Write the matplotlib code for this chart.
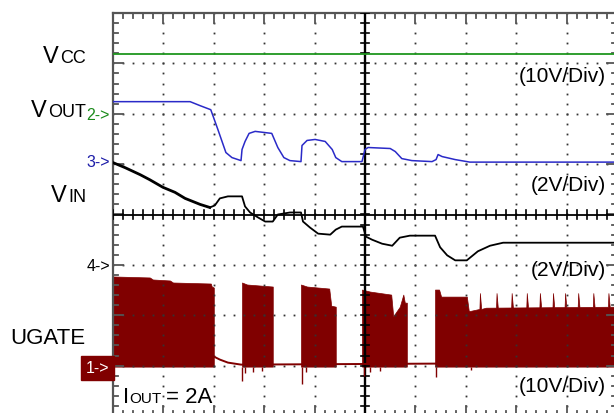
import numpy as np
import matplotlib
matplotlib.use('Agg')
from matplotlib import pyplot as plt

plt.rcParams['font.family'] = ['Liberation Sans', 'DejaVu Sans']

# scope screen: 10 x 8 divisions, y = 0 at the centre line
# VCC (ch2 level line)
vcc_level = 3.19

# VOUT trace (blue)
vout_x = [0.0, 1.53, 1.73, 1.94, 2.08, 2.24, 2.36, 2.54, 2.56, 2.62, 2.70, 2.82, 3.15,
          3.27, 3.39, 3.51, 3.73, 3.75, 3.85, 4.01, 4.21, 4.35, 4.42, 4.54, 4.94, 5.0,
          5.06, 5.5, 5.6, 5.73, 5.93, 6.33, 6.41, 6.45, 6.53, 6.79, 7.08, 10.0]
vout_y = [2.24, 2.24, 2.16, 2.08, 1.69, 1.23, 1.13, 1.07, 1.29, 1.45, 1.61, 1.65, 1.61,
          1.33, 1.13, 1.07, 1.05, 1.37, 1.47, 1.49, 1.45, 1.29, 1.13, 1.05, 1.05, 1.29,
          1.33, 1.31, 1.25, 1.11, 1.07, 1.05, 1.09, 1.19, 1.15, 1.09, 1.04, 1.04]

# VIN trace (black)
vin_x = [0.0, 0.24, 0.54, 0.73, 0.99, 1.23, 1.43, 1.73, 1.92, 2.02, 2.12, 2.28, 2.56,
         2.62, 2.72, 2.88, 3.02, 3.17, 3.27, 3.51, 3.73, 3.77, 3.91, 4.07, 4.31, 4.42,
         4.54, 4.96, 5.02, 5.14, 5.34, 5.54, 5.69, 5.89, 6.39, 6.49, 6.63, 6.79, 7.02,
         7.24, 7.48, 7.74, 10.0]
vin_y = [1.03, 0.93, 0.79, 0.69, 0.54, 0.44, 0.32, 0.20, 0.14, 0.18, 0.32, 0.36, 0.36,
         0.16, 0.04, -0.06, -0.14, -0.14, 0.0, 0.04, 0.04, -0.14, -0.26, -0.38, -0.40, -0.30,
         -0.24, -0.24, -0.44, -0.50, -0.58, -0.62, -0.46, -0.42, -0.42, -0.65, -0.81, -0.91, -0.91,
         -0.73, -0.62, -0.56, -0.56]

# UGATE (dark red) switching bursts: top envelope per burst
ugate_on_base = -3.02
burst1_x = [0.0, 0.73, 0.79, 1.13, 1.19, 1.94, 1.96, 2.0]
burst1_top = [-1.23, -1.25, -1.29, -1.31, -1.35, -1.37, -1.43, -1.45]
burst2_x = [2.56, 2.66, 3.17]
burst2_top = [-1.35, -1.39, -1.43]
burst3_x = [3.73, 3.85, 4.29, 4.33, 4.42]
burst3_top = [-1.39, -1.43, -1.47, -1.81, -1.83]
burst4_x = [4.94, 5.1, 5.52, 5.56, 5.69, 5.76, 5.79, 5.83]
burst4_top = [-1.49, -1.53, -1.59, -2.02, -1.83, -1.59, -1.75, -1.75]
burst5_x = [6.39, 6.47, 6.51, 7.02, 7.06, 7.4, 10.0]
burst5_top = [-1.49, -1.49, -1.63, -1.63, -1.92, -1.85, -1.83]
burst5_spikes = [7.28, 7.61, 7.91, 8.21, 8.47, 8.73, 8.97, 9.23, 9.53, 9.83]
burst5_spike_top = -1.56
# off state level between bursts
ugate_off_x = [2.0, 2.12, 2.28, 2.54, 6.39]
ugate_off_y = [-2.82, -2.88, -2.94, -2.98, -2.96]
# glitches below the base line
glitch_x = [2.56, 2.62, 2.78, 2.95, 3.75, 3.83, 4.98, 5.1, 5.3, 6.41, 7.1]
glitch_y = [-3.31, -3.15, -3.13, -3.10, -3.37, -3.12, -3.20, -3.12, -3.10, -3.23, -3.08]

W, H = 614, 414
fig = plt.figure(figsize=(W / 100, H / 100), dpi=100)
ax = fig.add_axes([113 / W, -3 / H, 504 / W, 403 / H])
ax.set_xlim(0, 10)
ax.set_ylim(-4, 4)
ax.axis('off')

# dotted graticule
dot = '#333333'
minor = np.arange(0, 10.01, 0.2)
minor_y = np.arange(-4, 4.01, 0.2)
for i in range(1, 10):
    if i != 5:
        ax.plot(np.full_like(minor_y, i), minor_y, ls='none', marker='s', ms=1.3, color=dot, mew=0)
for j in range(-3, 4):
    if j != 0:
        ax.plot(minor, np.full_like(minor, j), ls='none', marker='s', ms=1.3, color=dot, mew=0)

# border with inward ticks
edge = '#555555'
for xb in (0, 10):
    ax.plot([xb, xb], [-4, 4], color=edge, lw=1.6, clip_on=False)
for yb in (-4, 4):
    ax.plot([0, 10], [yb, yb], color=edge, lw=1.6, clip_on=False)
for v in minor:
    ln = 0.2 if abs(v - round(v)) < 1e-6 else 0.09
    ax.plot([v, v], [4, 4 - ln], color=edge, lw=1.3)
    ax.plot([v, v], [-4, -4 + ln], color=edge, lw=1.3)
for v in minor_y:
    ln = 0.2 if abs(v - round(v)) < 1e-6 else 0.09
    ax.plot([0, ln], [v, v], color=edge, lw=1.3)
    ax.plot([10, 10 - ln], [v, v], color=edge, lw=1.3)

# centre cross with ticks
ax.plot([5, 5], [-4, 4], color='black', lw=1.7)
ax.plot([0, 10], [0, 0], color='black', lw=1.3)
for v in minor:
    ax.plot([v, v], [-0.08, 0.08], color='black', lw=1.2)
for v in minor_y:
    ax.plot([4.92, 5.08], [v, v], color='black', lw=1.2)

# traces
ax.plot([0, 10], [vcc_level, vcc_level], color='#1f961f', lw=1.3)
ax.plot(vout_x, vout_y, color='#2a2ac8', lw=1.1)
ax.plot(vin_x[:9], vin_y[:9], color='black', lw=2.0)
ax.plot(vin_x[8:], vin_y[8:], color='black', lw=1.3)

red = '#800000'
ax.plot(ugate_off_x, ugate_off_y, color=red, lw=1.4)
for bx, bt in [(burst1_x, burst1_top), (burst2_x, burst2_top), (burst3_x, burst3_top),
               (burst4_x, burst4_top)]:
    ax.fill_between(bx, ugate_on_base, bt, color=red, lw=0.5)
sx = list(burst5_x)
st = list(burst5_top)
for s in burst5_spikes:
    lvl = np.interp(s, burst5_x, burst5_top)
    sx += [s - 0.01, s, s + 0.025]
    st += [lvl, burst5_spike_top, lvl]
order = np.argsort(sx)
ax.fill_between(np.array(sx)[order], ugate_on_base, np.array(st)[order], color=red, lw=0.5)
ax.vlines(glitch_x, glitch_y, ugate_on_base, color=red, lw=1.0)

# channel markers
def fx(px):
    return px / W

def fy(py):
    return 1 - py / H

fig.text(fx(110), fy(115), '2->', color='#1a8a1a', fontsize=11.5, ha='right', va='center')
fig.text(fx(110), fy(163), '3->', color='#1c1ca8', fontsize=11.5, ha='right', va='center')
fig.text(fx(110), fy(267), '4->', color='black', fontsize=11.5, ha='right', va='center')
fig.text(fx(109), fy(369), '1->', color='white', fontsize=11.5, ha='right', va='center',
         bbox=dict(boxstyle='square,pad=0.3', fc=red, ec=red))

# signal labels
def label(main, sub, right, base, big=17, small=13):
    t = fig.text(fx(right), fy(base), sub, fontsize=small, ha='right', va='baseline')
    fig.canvas.draw()
    bb = t.get_window_extent()
    fig.text(bb.x0 / W - 0.002, fy(base), main, fontsize=big, ha='right', va='baseline')

label('V', 'CC', 86, 63)
label('V', 'OUT', 86, 117)
label('V', 'IN', 86, 202)
fig.text(fx(10), fy(344), 'UGATE', fontsize=16, ha='left', va='baseline')

fig.text(fx(123), fy(403), 'I', fontsize=16, ha='left', va='baseline')
fig.text(fx(129), fy(403), 'OUT', fontsize=11, ha='left', va='baseline')
fig.text(fx(166), fy(403), '= 2A', fontsize=16, ha='left', va='baseline')

for txt, yc in [('(10V/Div)', 77), ('(2V/Div)', 186), ('(2V/Div)', 270), ('(10V/Div)', 387)]:
    fig.text(fx(606), fy(yc), txt, fontsize=15, ha='right', va='center')

fig.savefig('out.png', dpi=100)
